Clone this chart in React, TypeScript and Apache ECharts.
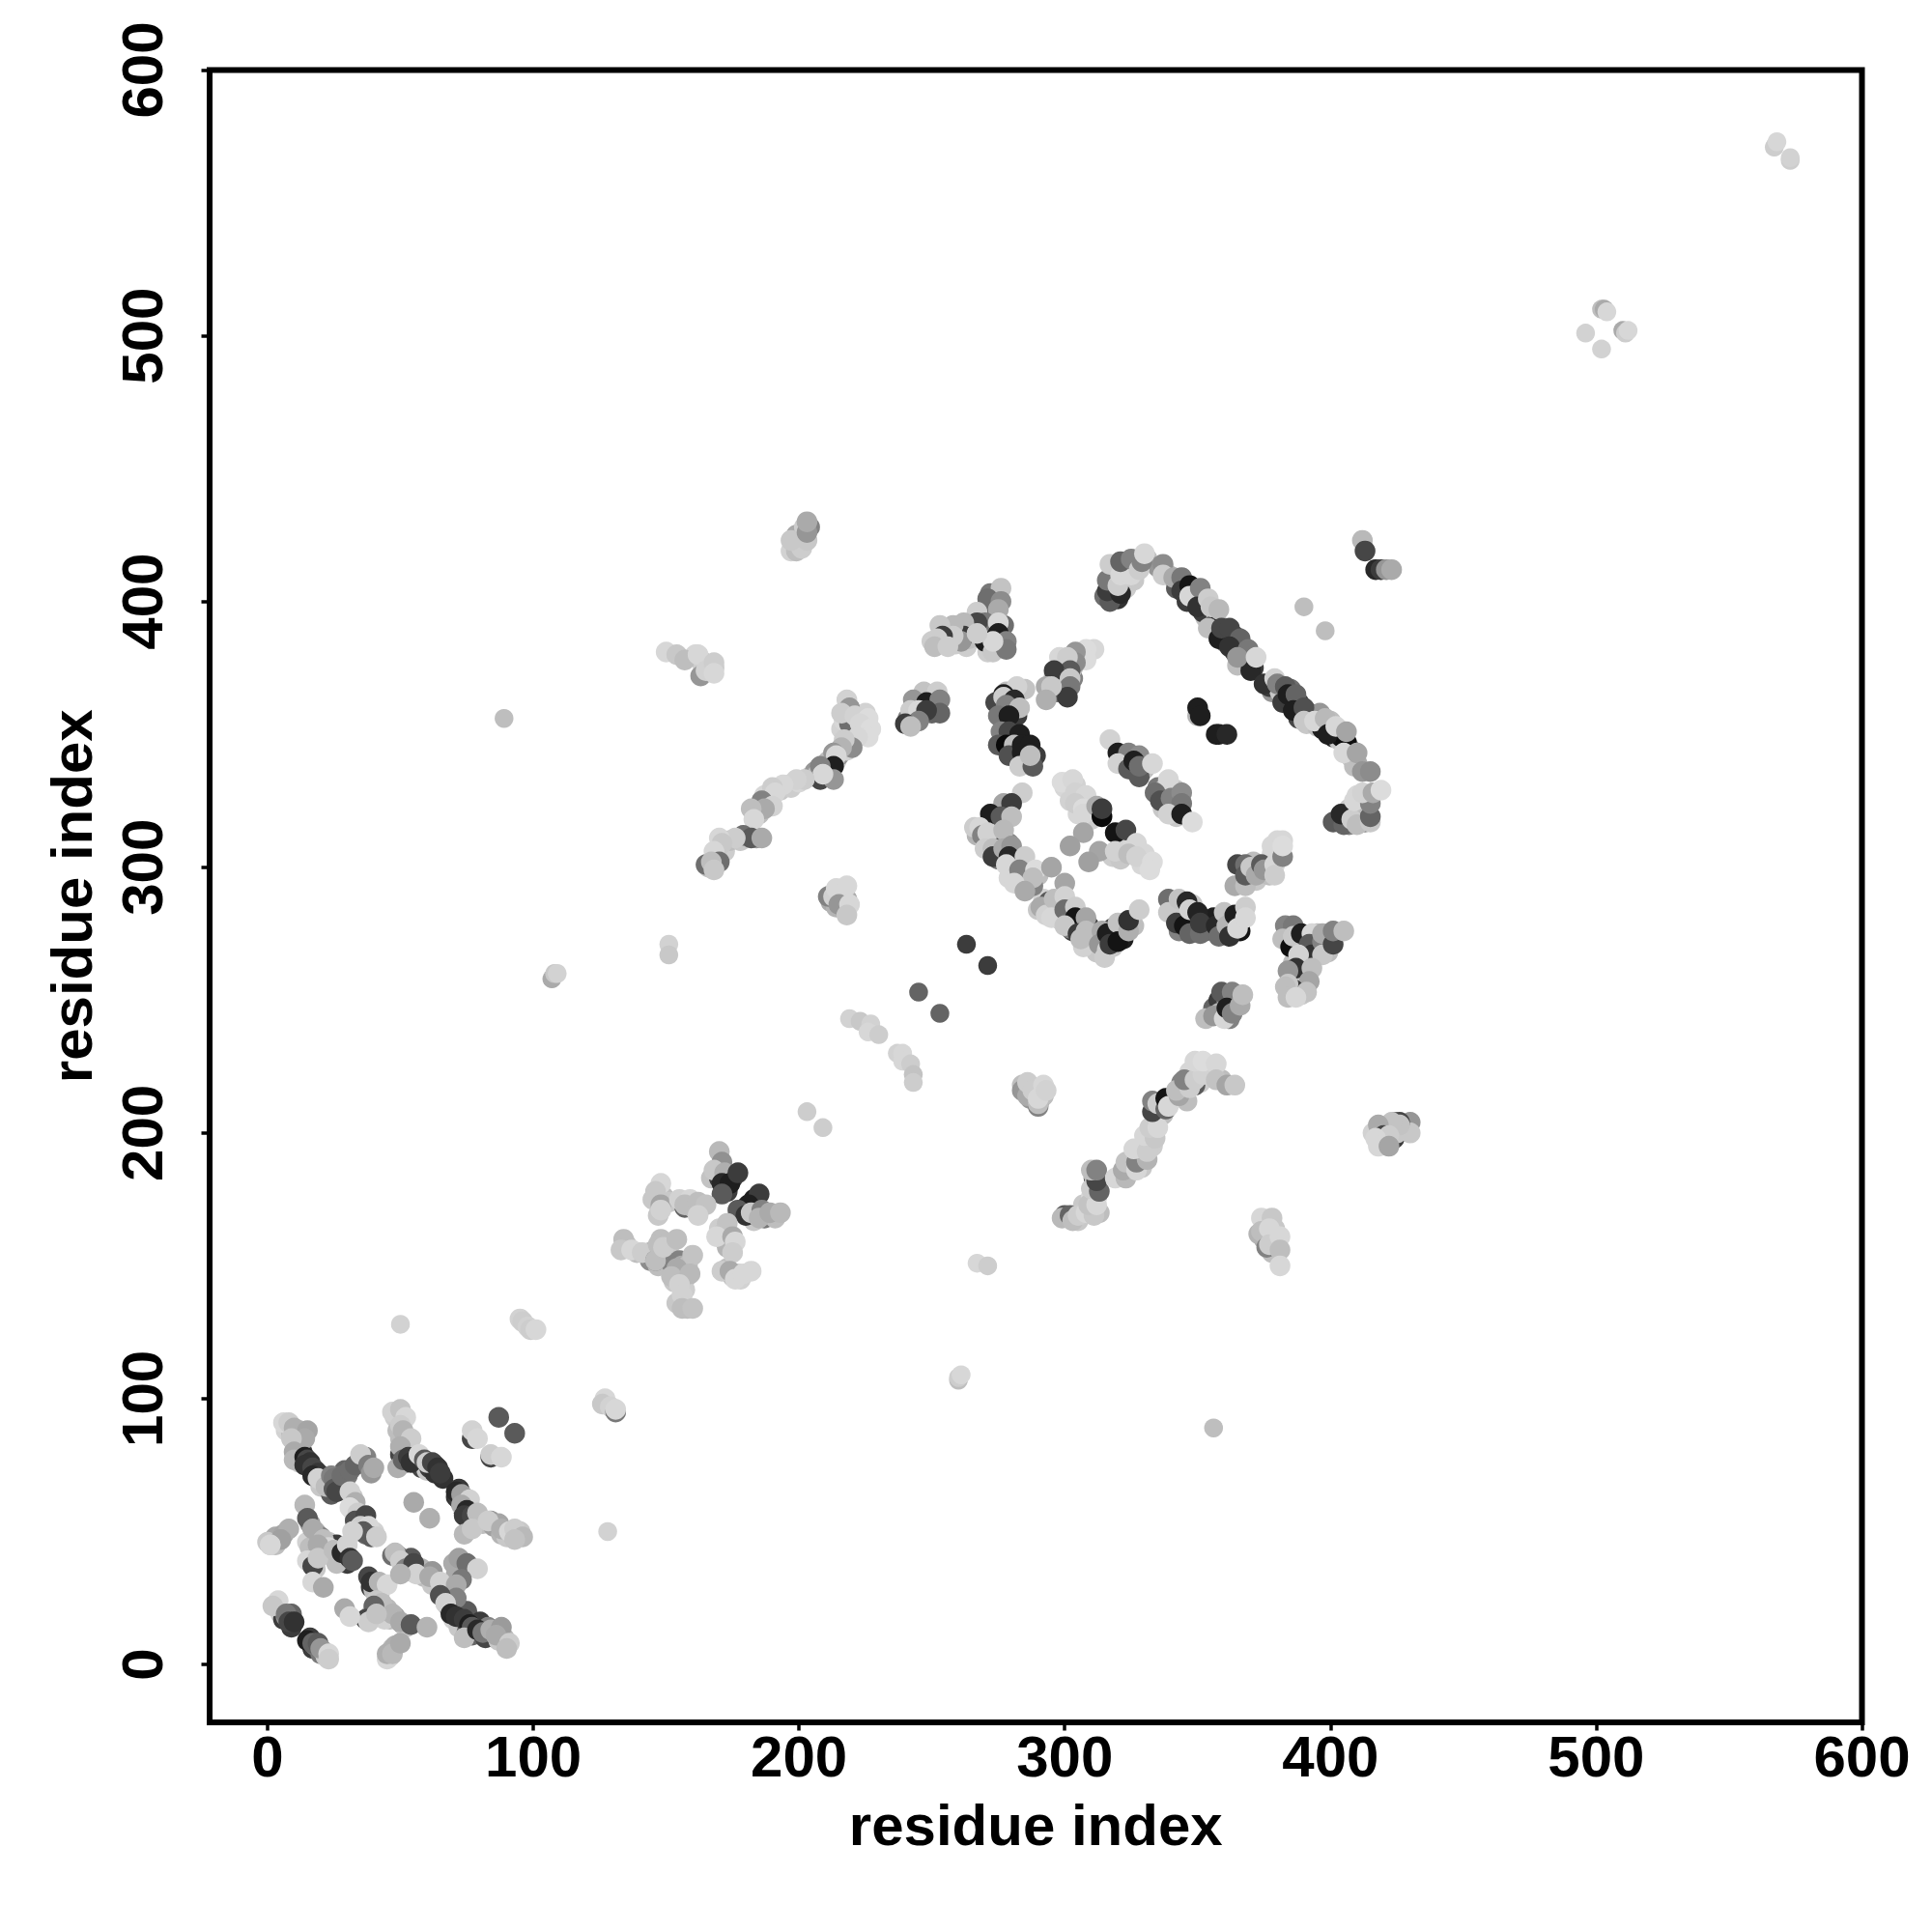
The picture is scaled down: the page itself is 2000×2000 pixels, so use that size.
import React, { useEffect, useRef } from "react";
import * as echarts from "echarts";

type Pt = [number, number, number]; // residue x, residue y, grey level

const tickValues = [0, 100, 200, 300, 400, 500, 600];
const axisTitle = "residue index";

const underA: Pt[] = [
  [7,88,210],[9,87,190],[11,83,190],[12,88,185],[13,86,170],[12,82,60],[13,80,60],[12,76,200],[16,74,60],[18,73,40],[20,71,60],[21,69,90],[23,68,130],[20,67,200],[24,64,90],[27,68,120],[29,73,100],[30,71,120],[36,76,200],[37,78,130],
  [32,63,200],[32,58,205],[33,56,190],[35,55,60],[36,54,60],[36,53,190],[34,50,215],[37,49,100],[40,50,210],
  [48,93,205],[49,88,190],[50,85,190],[52,83,200],[52,80,190],[50,79,70],[52,76,60],[55,77,190],[56,76,60],[58,74,70],[60,73,200],[61,74,60],[63,72,50],[66,70,50],[63,75,90],
  [71,63,50],[72,62,60],[74,61,130],[75,60,200],[74,57,50],[76,54,60],[80,55,70],[81,53,190],[85,52,160],[88,49,180],[90,48,200],[92,49,190],[94,49,185],[95,50,200],
  [16,53,150],[18,50,180],[20,48,130],[23,46,200],[25,44,170],[26,45,60],[27,41,70],[29,41,60],[29,40,90],[30,38,60],[3,48,170],[6,49,165],[3,45,190],[0,46,200],
  [39,29,60],[40,28,190],[42,26,200],[44,21,170],[45,21,185],[46,17,190],[48,18,160],[51,15,170],[52,14,200],[44,17,210],[39,19,200],
  [49,41,120],[51,38,60],[53,37,190],[54,35,180],[54,40,90],[58,36,180],[59,33,190],[62,35,150],[64,29,190],[62,30,200],[67,27,190],
  [70,38,170],[71,34,170],[69,28,150],[70,22,100],[68,22,70],[69,25,190],[72,21,60],[72,20,190],[75,20,90],[73,16,60],[75,13,130],[77,11,100],[80,16,60],[82,10,70],[83,14,130],[85,12,200],[87,9,200],[89,10,180],
  [4,21,190],[5,19,210],[6,17,60],[9,19,100],[7,18,150],[9,14,60],[16,10,60],[17,6,60],[18,7,120],[20,4,120],[21,5,180],[22,3,200],[46,3,200],[47,6,185],[48,7,175],
  [15,46,210],[16,44,190],[18,36,200],[20,41,190],[22,42,60],[26,38,190],
];
const underB: Pt[] = [
  [172,306,205],[174,310,190],[178,310,200],[184,311,150],[185,320,190],[187,327,215],[188,324,180],[193,329,200],[196,331,210],[197,330,205],[200,332,215],[204,334,210],[206,336,150],[207,335,190],[210,337,140],[211,340,190],[212,336,60],[214,340,210],[215,342,150],[217,345,170],[218,344,210],[216,352,210],[219,351,190],[224,350,215],[225,358,210],[217,355,215],[219,354,110],[166,300,190],[169,305,200],[165,301,110],
  [241,356,130],[243,357,205],[246,358,110],[244,361,60],[246,364,180],[250,364,100],[251,361,120],[250,358,100],
  [250,385,205],[255,388,190],[256,385,60],[259,384,205],[260,388,190],[263,383,205],[264,386,190],[265,390,205],[268,393,70],[269,388,60],[271,396,130],[272,392,200],[272,387,30],[274,383,200],[275,383,30],[271,381,205],[277,391,110],[273,398,100],[272,403,120],
  [278,366,190],[276,360,70],[279,362,30],[279,365,200],[281,359,190],[277,354,130],[280,355,110],[282,357,60],
  [277,348,50],[279,348,30],[280,345,30],[282,347,110],[282,341,70],[285,342,60],[283,345,200],[286,339,190],[285,340,30],[289,342,60],
  [296,372,190],[298,370,140],[299,375,90],[300,372,205],[299,368,60],[300,366,190],[303,371,130],[303,375,190],[305,379,215],[306,378,205],
  [321,340,100],[322,342,140],[323,341,190],[325,337,100],[326,341,150],[329,336,100],[327,336,60],[330,337,190],[335,330,120],[337,327,70],[338,330,190],[341,322,30],[342,329,200],[343,321,100],[337,322,200],[342,319,200],
  [318,401,190],[319,403,205],[318,406,60],[319,411,200],[322,408,60],[323,413,205],[323,405,205],[320,401,50],[326,414,100],[326,408,200],[331,416,190],[315,402,110],
];
const underC: Pt[] = [
  [335,413,150],[339,410,190],[342,405,90],[345,407,130],[346,400,60],[348,403,60],[349,401,50],[352,401,130],[353,394,190],[356,395,190],[352,396,60],[357,393,190],[356,391,40],[360,388,40],[360,385,100],[361,386,30],[364,387,70],[364,381,60],[367,383,110],[367,378,90],[368,379,190],[365,376,190],[370,376,130],[371,375,60],
  [378,366,150],[377,368,60],[381,366,200],[382,362,60],[385,362,60],[385,367,110],[388,362,60],[388,358,30],[388,356,70],[392,358,80],[391,354,200],[395,353,190],[396,358,150],[397,352,30],[400,355,190],[401,349,40],[403,348,200],[403,352,190],[404,349,20],[407,345,150],[408,341,200],[410,339,170],[409,338,190],
  [403,318,60],[406,320,60],[407,322,200],[407,316,130],[409,320,200],[411,321,170],[412,318,100],[413,323,190],[413,317,130],[414,326,120],[410,327,215],
  [300,330,215],[304,331,210],[302,325,210],[306,325,205],[305,320,215],[311,320,180],[310,318,205],
  [318,304,205],[322,308,210],[325,307,215],[321,303,200],[329,301,215],[330,305,215],
  [267,312,180],[270,315,100],[273,312,90],[274,315,50],[271,311,60],[275,318,160],[272,317,190],[270,310,200],[274,305,200],[275,303,110],[279,309,130],[278,306,100],[282,302,60],[283,303,170],[280,299,200],[284,297,130],[287,296,180],[283,295,170],[279,296,215],[286,294,100],[290,297,190],
  [290,284,200],[292,288,210],[294,287,90],[296,283,130],[298,285,200],[297,281,110],[302,283,190],[302,280,60],[303,276,60],[302,277,130],[305,278,170],[306,280,190],[309,278,60],[309,273,100],[310,272,210],[311,275,165],[312,268,200],[318,270,200],[318,277,60],[321,275,200],[321,278,170],[322,273,30],[326,278,190],
  [341,285,190],[344,283,60],[344,281,200],[343,276,130],[348,280,20],[348,286,200],[349,277,70],[353,276,90],
  [356,281,30],[359,277,60],[360,276,60],[363,279,210],[366,279,60],[366,276,20],
  [369,299,100],[371,302,190],[372,295,200],[373,298,60],[376,301,200],[377,297,190],[380,304,205],[378,305,215],[381,306,140],[380,310,215],
];
const underD: Pt[] = [
  [384,276,60],[385,273,190],[387,268,30],[389,270,130],[390,272,200],[391,268,60],[394,268,110],[395,270,60],[399,272,100],[395,275,190],[399,268,190],[385,258,165],[385,254,100],[388,256,190],[388,259,60],[390,258,200],[389,252,200],[386,264,190],[389,263,200],
  [356,247,100],[358,250,60],[361,250,150],[358,245,180],[362,243,130],[364,250,160],
  [300,169,90],[305,167,200],[307,173,200],[310,176,215],[311,183,60],[311,184,190],[312,176,190],[313,170,190],[325,187,170],[329,187,200],[328,191,200],[329,195,170],[333,195,205],[335,205,205],[337,207,190],[340,213,160],[344,219,130],[346,212,190],[347,223,215],[351,219,205],[354,224,215],[355,221,205],[359,220,190],
  [419,200,190],[424,198,60],[425,200,200],[428,203,150],[424,204,100],[416,200,210],[421,196,190],
  [167,183,195],[170,183,60],[173,178,60],[175,183,70],[172,181,200],[183,175,30],[184,172,190],[180,172,50],[187,168,120],[183,167,200],[191,168,190],[183,170,70],
  [146,175,190],[147,176,200],[149,176,190],[147,169,200],[151,174,200],[157,172,100],[160,172,190],[163,172,205],
  [135,158,195],[139,155,190],[143,154,180],[144,152,140],[144,155,160],[147,150,190],[149,154,190],[151,157,200],[148,160,190],[152,151,130],[155,152,130],[156,150,170],[153,144,200],[157,145,190],[158,150,190],[154,136,200],[158,134,190],[157,141,205],
  [170,164,205],[171,162,200],[172,160,190],[173,157,180],[173,149,190],[177,147,205],[178,145,210],[175,146,190],
  [199,425,170],[201,423,190],[200,421,200],[202,428,205],
  [218,288,170],[212,287,170],[216,290,90],[217,287,205],[214,285,180],
  [287,213,150],[289,215,210],[291,213,205],[292,214,190],[284,218,190],[284,216,150],
  [378,160,205],[375,160,170],[376,165,190],[379,164,200],[378,155,190],[380,158,170],
  [164,376,205],[166,375,170],[163,378,180],[168,375,200],
];

const blockA: Pt[] = [
  [6,91,215],[8,91,205],[10,89,175],[15,88,165],[14,85,170],[9,85,200],[10,80,170],[10,77,185],[14,78,30],[15,77,70],[16,76,50],[14,75,50],[17,74,70],[19,72,55],[17,71,40],[19,70,210],[22,67,190],[24,71,130],[25,70,120],[25,66,90],[26,65,70],[28,71,110],[31,73,110],[33,75,100],[35,79,205],[38,75,125],[39,72,150],[40,74,170],
  [31,65,210],[33,61,175],[31,59,220],[34,57,205],[33,54,80],[37,56,70],[35,52,205],[38,52,215],[36,50,90],[39,48,90],[41,48,205],[32,50,210],
];
const blockB: Pt[] = [
  [47,95,210],[50,96,195],[52,93,215],[50,90,205],[51,88,180],[54,85,205],[50,82,175],[49,74,175],[51,77,100],[53,78,60],[54,76,50],[57,79,215],[59,77,90],[60,76,205],[62,76,70],[64,74,50],[65,72,60],
  [77,85,70],[77,88,210],[79,85,215],[87,93,90],[93,87,90],[84,78,70],[84,79,205],[88,78,215],[55,61,170],[61,55,175],
  [72,66,55],[71,65,40],[73,64,160],[76,62,210],[73,60,170],[75,58,40],[74,56,60],[77,56,70],[79,57,190],[74,49,185],[77,51,200],[84,54,150],[87,53,165],[83,54,205],[88,51,175],[91,50,215],[93,51,205],[96,48,185],[93,47,195],
];
const blockC: Pt[] = [
  [14,60,185],[15,55,90],[17,51,170],[21,47,190],[23,44,215],[19,45,170],[8,51,175],[5,47,160],[1,45,200],[1,45,215],
  [15,39,215],[17,37,70],[19,40,200],[25,43,190],[28,42,40],[30,45,210],[31,40,50],[32,39,90],[17,31,215],[21,29,170],
  [38,33,70],[39,31,50],[42,31,180],[45,30,215],[41,24,200],[43,23,190],[40,22,100],[47,19,180],[50,16,170],[54,15,90],[60,14,180],[37,17,70],[38,16,205],[41,19,195],
  [29,21,170],[31,18,215],[4,24,215],[2,22,200],[7,19,120],[8,16,70],[10,16,50],[15,9,30],[17,8,100],[19,8,90],[20,6,150],[23,4,215],[23,2,205],[45,2,215],[45,4,175],[47,4,185],[50,8,170],
  [47,41,110],[48,42,190],[50,39,205],[52,36,130],[55,38,70],[56,34,210],[61,33,170],[65,31,210],[50,34,180],
  [72,40,160],[75,38,110],[79,36,210],[73,32,120],[71,30,170],[71,25,130],[65,26,80],[67,23,210],
  [70,17,210],[72,14,200],[75,12,100],[69,19,40],[71,18,50],[74,17,60],[76,15,30],[77,14,90],[74,10,190],[79,13,40],[81,12,120],[84,13,175],[88,14,155],[86,11,170],[91,8,205],[90,6,190],
];
const blockD: Pt[] = [
  [170,193,185],[171,189,145],[168,186,200],[172,185,175],[171,181,40],[174,181,30],[177,185,60],[171,177,90],[185,177,60],[181,173,30],[177,171,90],[180,169,50],[182,170,200],[186,171,130],[185,168,180],[189,170,170],[193,170,185],
  [148,181,215],[146,178,200],[145,175,200],[148,173,165],[148,171,210],[155,175,210],[159,175,215],[157,173,190],[162,174,190],[165,173,195],[162,169,210],
  [134,160,190],[133,156,200],[137,156,215],[141,155,205],[146,152,130],[146,152,190],[147,158,190],[149,157,205],[154,160,190],[160,154,195],[154,149,170],[152,146,190],[159,147,185],[155,143,210],[156,139,210],[156,134,190],[160,134,195],
  [173,166,195],[169,161,215],[175,161,170],[176,159,215],[175,155,205],[171,148,205],[174,148,170],[176,145,215],[179,147,215],[182,148,215],
  [95,130,210],[96,129,205],[98,127,210],[99,126,205],[101,126,215],[127,100,215],[126,98,200],[129,97,210],[131,95,120],[131,96,215],
];
const blockE: Pt[] = [
  [150,381,215],[154,380,200],[161,380,215],[157,378,190],[164,375,205],[162,380,215],[163,372,150],[165,374,210],[168,377,205],[168,373,215],
  [218,363,210],[219,360,150],[216,358,205],[221,357,210],[226,356,220],[223,354,215],[227,352,220],[226,349,220],[222,349,215],[220,345,140],[217,348,205],[216,345,180],[213,343,150],[214,342,215],[213,338,30],[208,338,130],[208,333,70],[213,333,150],[209,335,215],
  [202,333,205],[199,333,210],[194,331,215],[190,330,205],[191,328,215],[186,325,130],[190,323,210],[187,322,170],[182,322,190],[183,318,215],[179,312,110],[182,311,90],[186,311,170],[176,311,205],[170,311,215],[171,309,200],[168,306,215],[170,302,110],[167,302,190],[168,299,200],
  [211,289,130],[213,289,210],[214,292,215],[218,293,215],[215,286,150],[219,286,215],[218,282,200],
  [247,366,195],[252,366,205],[243,363,150],[248,362,30],[253,363,130],[253,358,100],[242,359,205],[245,359,215],[248,359,60],[245,355,130],[240,354,60],[242,353,190],
  [197,419,210],[199,419,190],[201,420,205],[197,423,200],[203,423,200],[204,428,130],[203,426,150],[203,430,170],
];
const blockF: Pt[] = [
  [276,405,195],[271,401,110],[276,400,140],[267,396,205],[275,397,170],[270,392,120],[267,392,70],[275,392,215],[275,388,30],[270,385,30],[273,381,200],[278,385,130],[278,382,120],[273,385,215],[262,392,185],[262,387,60],[261,385,150],[258,391,185],[258,387,205],[253,391,200],[254,387,60],[252,386,205],[251,383,190],[256,383,205],[267,388,205],
  [311,382,215],[308,382,220],[308,378,220],[304,381,150],[298,379,215],[304,377,140],[301,379,205],[302,374,90],[297,372,205],[296,374,60],[302,371,200],[297,366,100],[302,368,120],[301,364,60],[293,368,170],[295,368,200],[293,363,175],
  [285,367,195],[282,368,210],[277,365,30],[274,362,70],[277,364,205],[281,363,40],[278,361,130],[283,360,190],[275,357,120],[279,357,30],
  [276,351,130],[279,351,70],[275,346,90],[278,346,10],[283,350,30],[281,346,190],[279,342,80],[284,346,30],[284,343,30],[287,346,30],[283,338,205],[288,338,90],[287,342,190],
  [317,348,210],[320,343,30],[324,343,130],[328,342,140],[320,339,210],[324,337,90],[328,334,90],[326,340,30],[328,338,110],[333,339,215],[339,333,215],[334,328,110],[336,325,80],[340,326,130],[344,328,140],[344,324,120],[339,320,210],[344,320,30],[348,317,220],
  [350,357,180],[350,360,30],[351,357,30],[357,350,30],[358,350,30],[361,350,40],
];
const blockG: Pt[] = [
  [317,400,90],[316,404,60],[316,408,120],[317,414,205],[321,403,40],[320,406,205],[321,410,215],[325,410,215],[321,415,100],[325,416,130],[328,412,205],[329,415,130],[330,418,215],
  [337,414,140],[337,410,205],[341,409,170],[344,409,120],[344,404,60],[347,406,20],[347,402,215],[351,405,130],[350,398,50],[354,401,205],[355,398,200],[354,390,190],[358,397,185],
  [358,386,30],[359,390,70],[362,390,70],[366,386,100],[362,383,50],[369,382,120],[370,374,40],[365,379,150],[372,379,215],
  [375,369,50],[379,371,210],[380,369,130],[383,368,90],[384,365,30],[387,365,100],[386,359,30],[390,360,80],[390,355,200],[394,355,215],[398,356,185],[399,350,30],[402,353,215],[406,347,15],[406,351,165],[405,343,215],[410,343,165],[412,336,150],[415,336,140],
  [401,317,90],[405,316,100],[404,320,40],[408,318,205],[410,316,190],[415,317,200],[415,319,100],[409,325,215],[415,324,130],[412,328,210],[416,328,170],[419,329,220],
  [412,423,185],[413,419,70],[417,412,40],[419,412,60],[421,412,150],[423,412,170],
];
const blockH: Pt[] = [
  [299,332,220],[303,333,215],[304,328,210],[308,327,215],[304,324,205],[307,322,220],[307,320,215],[312,323,170],[314,319,10],[314,322,60],[307,313,165],[302,308,160],[319,313,20],[323,314,70],[313,306,165],[309,302,160],[319,306,210],[327,309,215],[324,305,190],[327,304,210],[333,302,220],[332,299,220],
  [284,328,205],[277,324,165],[280,324,60],[272,320,30],[276,319,90],[280,319,190],[266,315,205],[268,315,215],[269,312,130],[271,313,210],[277,314,185],[270,307,205],[273,307,190],[273,304,60],[277,307,170],[280,308,150],[279,304,40],[278,301,215],[285,304,205],[283,299,130],[289,299,220],[295,300,165],[288,293,130],[288,296,190],[281,294,215],[285,291,170],[300,294,165],
  [292,285,100],[291,285,170],[293,282,210],[296,288,190],[300,289,210],[295,281,215],[300,284,110],[304,285,205],[304,281,20],[300,278,200],[308,281,165],[305,275,60],[308,276,190],[307,270,210],[306,273,190],[314,276,170],[313,271,150],[316,275,30],[316,269,205],[315,266,205],[320,279,195],[317,271,60],[320,272,20],[324,276,175],[324,280,50],[328,284,205],
  [339,288,110],[339,283,200],[343,288,195],[342,279,60],[346,287,40],[345,278,20],[347,284,210],[347,275,100],[350,283,35],[351,275,110],[351,279,60],
  [357,278,40],[358,274,110],[360,283,195],[361,278,180],[364,282,30],[362,274,50],[365,277,215],[368,285,205],[368,281,215],
  [364,293,170],[368,293,190],[365,301,70],[368,301,110],[368,297,90],[370,300,200],[372,297,170],[374,301,90],[375,299,150],[379,301,215],[379,297,205],[378,308,215],[382,304,130],[382,310,215],[382,308,220],
];
const blockI: Pt[] = [
  [383,278,130],[386,278,120],[382,273,190],[385,270,15],[386,274,200],[389,275,30],[393,275,215],[392,271,90],[393,267,50],[388,267,210],[397,272,130],[397,267,200],[397,275,170],[401,271,70],[401,276,130],[405,276,190],
  [387,262,50],[384,261,150],[393,262,190],[392,257,165],[386,254,60],[384,256,200],[383,255,190],[384,251,190],[391,253,195],[387,251,215],
  [353,243,190],[356,244,150],[360,243,215],[359,253,90],[363,253,130],[361,247,30],[363,245,130],[366,248,170],[367,252,190],
  [299,168,185],[302,169,100],[303,167,190],[305,169,205],[308,170,215],[311,169,200],[309,173,195],[312,173,215],[310,179,205],[313,178,100],[312,182,70],[310,186,190],[312,186,130],
  [319,183,215],[323,183,185],[322,186,170],[323,189,195],[327,186,215],[327,189,130],[331,190,180],[326,194,215],[331,193,205],[330,199,215],[334,198,200],[332,202,205],[335,202,215],
  [333,208,70],[333,212,130],[335,211,205],[338,209,100],[338,213,20],[339,210,215],[343,214,165],[342,216,190],[349,218,90],[347,217,205],[345,220,130],[349,220,205],[352,222,210],[349,227,215],[352,227,220],[357,226,215],[357,220,195],[361,218,165],[364,218,200],
  [430,204,150],[430,200,200],[426,204,70],[426,203,195],[423,204,195],[418,203,170],[420,199,70],[422,199,205],[417,198,215],[418,195,215],[422,195,165],
  [373,162,180],[374,168,215],[378,168,200],[374,163,190],[376,157,130],[377,164,215],[377,158,205],[381,161,215],[381,156,190],[381,150,215],
  [286,214,170],[286,219,205],[288,216,205],[290,210,130],[290,211,190],[290,213,215],[292,218,215],[293,216,210],
];
const blockJ: Pt[] = [
  [263,271,60],[271,263,60],[245,253,100],[253,245,100],[390,398,190],[398,389,190],[50,128,210],[128,50,210],
  [219,243,210],[223,242,200],[227,241,210],[226,238,215],[230,237,205],[237,230,210],[239,230,215],[239,227,215],[242,226,205],[243,222,195],[243,219,205],
  [203,208,205],[209,202,205],[89,356,190],[107,258,170],[108,260,200],[109,260,210],[151,271,210],[151,267,200],[267,151,215],[271,150,205],[260,107,190],[260,108,205],[261,109,215],[356,89,190],
  [567,571,205],[568,573,215],[573,566,205],[573,567,210],[496,501,210],[502,495,210],[502,510,190],[503,510,170],[504,509,215],[510,502,170],[511,501,205],[512,502,215],
];

const denseContacts: Pt[] = [
  ...underA, ...underB, ...underC, ...underD,
  ...blockA, ...blockB, ...blockC, ...blockD, ...blockE,
  ...blockF, ...blockG, ...blockH, ...blockI,
];

const FONT = "Liberation Sans";
const greyOf = (p: any) => {
  const g = p.data[2];
  return `rgb(${g},${g},${g})`;
};

export default function App() {
  const ref = useRef<HTMLDivElement>(null);
  useEffect(() => {
    const chart = echarts.init(ref.current!, undefined, { renderer: "svg" });
    const axisCommon = {
      type: "value" as const,
      min: -21.8,
      max: 600,
      name: axisTitle,
      nameLocation: "middle" as const,
      nameTextStyle: { fontFamily: FONT, fontWeight: "bold" as const, fontSize: 60, color: "#000" },
      axisLine: { show: false, onZero: false },
      splitLine: { show: false },
      axisTick: { show: true, length: 8.5, customValues: tickValues, lineStyle: { color: "#000", width: 3.5 } },
    };
    chart.setOption({
      animation: false,
      backgroundColor: "#fff",
      grid: {
        show: true,
        left: 217,
        right: 72.5,
        top: 72.5,
        bottom: 217,
        borderColor: "#000",
        borderWidth: 6,
        backgroundColor: "transparent",
      },
      xAxis: {
        ...axisCommon,
        nameGap: 76,
        axisLabel: {
          customValues: tickValues,
          fontFamily: FONT, fontWeight: "bold", fontSize: 60, color: "#000", margin: 5,
          hideOverlap: false,
        },
      },
      yAxis: {
        ...axisCommon,
        nameGap: 113,
        axisLabel: {
          customValues: tickValues,
          fontFamily: FONT, fontWeight: "bold", fontSize: 60, color: "#000", margin: 70,
          rotate: 90, align: "center", verticalAlign: "middle",
          hideOverlap: false,
        },
      },
      series: [
        { type: "scatter", data: denseContacts, symbol: "circle", symbolSize: 21.5, silent: true, itemStyle: { opacity: 1, color: greyOf } },
        { type: "scatter", data: blockJ, symbol: "circle", symbolSize: 19.5, silent: true, itemStyle: { opacity: 1, color: greyOf } },
      ],
    });
    return () => chart.dispose();
  }, []);
  return <div ref={ref} style={{ position: "absolute", left: 0, top: 0, width: 2000, height: 2000 }} />;
}
